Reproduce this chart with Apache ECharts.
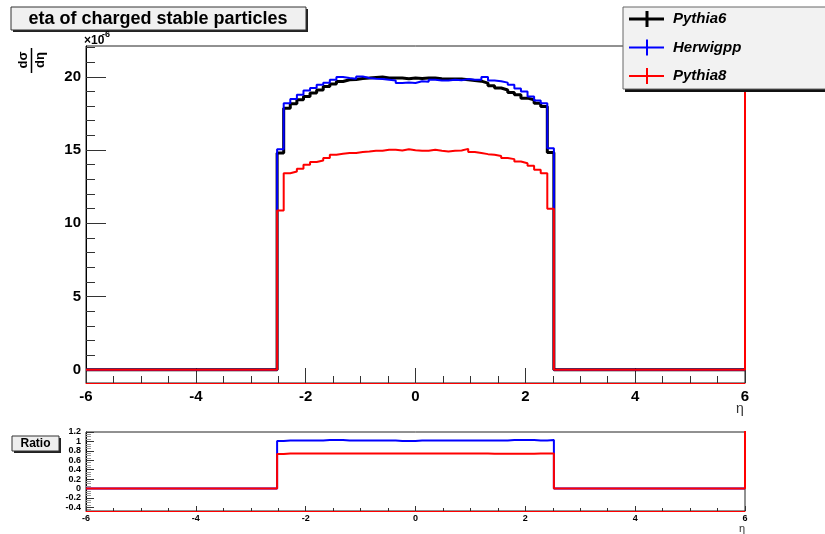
<!DOCTYPE html>
<html><head><meta charset="utf-8">
<script src="https://cdn.jsdelivr.net/npm/echarts@6/dist/echarts.min.js"></script>
<style>html,body{margin:0;padding:0;background:#fff}#c{width:825px;height:534px}</style>
</head><body><div id="c"></div>
<script>
// ---- histogram binning (eta) ----
const etaMin = -6, etaMax = 6, nBins = 100, firstFilledBin = 29;

// ---- dsigma/deta values (x1e-6), filled bins only ----
const pythia6 = [14.8, 17.86, 18.16, 18.43, 18.66, 18.89, 19.1, 19.34, 19.5, 19.68, 19.8, 19.82, 19.88,
  19.91, 19.95, 19.98, 19.91, 19.91, 19.91, 19.87, 19.91, 19.89, 19.91, 19.91, 19.87, 19.84, 19.84, 19.84, 19.8, 19.75, 19.7,
  19.57, 19.39, 19.23, 19.1, 18.93, 18.77, 18.54, 18.43, 18.2, 17.97, 14.83];
const herwigpp = [15.06, 18.2, 18.48, 18.77, 19.07, 19.23, 19.45, 19.6, 19.8, 19.98, 19.91, 19.87, 20.02,
  19.91, 19.87, 19.84, 19.8, 19.75, 19.57, 19.61, 19.57, 19.7, 19.66, 19.8, 19.75, 19.75, 19.8, 19.77, 19.84, 19.8, 19.8,
  19.98, 19.75, 19.7, 19.6, 19.45, 19.2, 19.0, 18.66, 18.38, 18.2, 15.13];
const pythia8 = [10.87, 13.42, 13.54, 13.72, 14.0, 14.18, 14.29, 14.45, 14.68, 14.74, 14.79, 14.79, 14.86, 14.9, 14.95, 14.95,
  15.02, 15.02, 14.97, 15.06, 14.99, 14.95, 14.95, 15.02, 14.95, 14.9, 14.95, 14.97, 15.08, 14.86, 14.79, 14.72, 14.68, 14.6,
  14.45, 14.38, 14.22, 14.1, 13.93, 13.65, 13.42, 10.99];
const pythia8Overflow = 1000;

// ---- ratio panel values (filled bins only) ----
const ratioHerwigpp = [1.01, 1.02, 1.02, 1.02, 1.02, 1.02, 1.02, 1.03, 1.03, 1.03, 1.02, 1.02, 1.02, 1.02, 1.02, 1.02,
  1.02, 1.02, 1.01, 1.01, 1.01, 1.02, 1.02, 1.02, 1.02, 1.02, 1.02, 1.02, 1.02, 1.02, 1.02, 1.02, 1.02, 1.02, 1.02, 1.03,
  1.03, 1.03, 1.03, 1.02, 1.02, 1.03];
const ratioPythia8 = [0.73, 0.745, 0.745, 0.745, 0.745, 0.745, 0.745, 0.745, 0.745, 0.745, 0.745, 0.745, 0.745, 0.745, 0.745, 0.745,
  0.745, 0.745, 0.745, 0.745, 0.745, 0.745, 0.745, 0.745, 0.745, 0.745, 0.745, 0.745, 0.745, 0.745, 0.745, 0.745, 0.735, 0.735, 0.735, 0.735,
  0.735, 0.735, 0.735, 0.745, 0.745, 0.745];
const ratioPythia8Overflow = 1000;

// ---- labels & ticks ----
const seriesNames = ['Pythia6', 'Herwigpp', 'Pythia8'];
const titleText = 'eta of charged stable particles';
const etaTicks = [-6, -4, -2, 0, 2, 4, 6];
const mainYTicks = [0, 5, 10, 15, 20];
const mainYMinorTicks = [1, 2, 3, 4, 6, 7, 8, 9, 11, 12, 13, 14, 16, 17, 18, 19, 21, 22];
const ratioYTicks = [-0.4, -0.2, 0, 0.2, 0.4, 0.6, 0.8, 1, 1.2];
const ratioYMinorTicks = [-0.45, -0.35, -0.3, -0.25, -0.15, -0.1, -0.05, 0.05, 0.1, 0.15, 0.25, 0.3, 0.35, 0.45, 0.5, 0.55,
  0.65, 0.7, 0.75, 0.85, 0.9, 0.95, 1.05, 1.1, 1.15];

const FONT = '"Liberation Sans", Arial, Helvetica, sans-serif';
const binW = (etaMax - etaMin) / nBins;
function histPath(vals, overflow) {
  const pts = [[etaMin, 0]];
  vals.forEach((v, i) => pts.push([+(etaMin + (firstFilledBin + i) * binW).toFixed(4), v]));
  pts.push([+(etaMin + (firstFilledBin + vals.length) * binW).toFixed(4), 0]);
  pts.push([etaMax, 0]);
  if (overflow !== undefined) pts.push([etaMax, overflow]);
  return pts;
}

const colors = ['#000000', '#0000ff', '#ff0000'];
const widths = [3, 2, 2];

function xAxisDef(grid, big) {
  return {
    type: 'value', gridIndex: grid, min: etaMin, max: etaMax, interval: 2,
    axisLine: { show: true, onZero: false, lineStyle: { color: '#ff0000', width: 1 } },
    axisTick: { show: true, inside: true, length: big ? 15 : 5, lineStyle: { color: '#333' } },
    minorTick: { show: true, splitNumber: 4, length: big ? 7 : 3, lineStyle: { color: '#333' } },
    axisLabel: { show: true, color: '#000', fontWeight: 'bold', fontFamily: FONT, fontSize: big ? 15 : 9, margin: big ? 6 : 3 },
    splitLine: { show: false }
  };
}
function yAxisMajor(grid, min, max, ticks, len, fs) {
  return {
    type: 'value', gridIndex: grid, position: 'left', offset: 0, min: min, max: max,
    axisLine: { show: true, onZero: false, lineStyle: { color: '#000', width: 1 } },
    axisTick: { show: true, inside: true, length: len, customValues: ticks, lineStyle: { color: '#333' } },
    axisLabel: { show: true, customValues: ticks, color: '#000', fontWeight: 'bold', fontFamily: FONT, fontSize: fs, margin: 5 },
    splitLine: { show: false }
  };
}
function yAxisMinor(grid, min, max, ticks, len, col) {
  return {
    type: 'value', gridIndex: grid, position: 'left', offset: 0, min: min, max: max,
    axisLine: { show: false, onZero: false },
    axisTick: { show: true, inside: true, length: len, customValues: ticks, lineStyle: { color: col } },
    axisLabel: { show: false },
    splitLine: { show: false }
  };
}

const mainData = [histPath(pythia6), histPath(herwigpp), histPath(pythia8, pythia8Overflow)];
const ratioData = [histPath(ratioHerwigpp), histPath(ratioPythia8, ratioPythia8Overflow)];

const series = [];
mainData.forEach((d, i) => series.push({
  name: seriesNames[i], type: 'line', step: 'end', data: d, xAxisIndex: 0, yAxisIndex: 0,
  symbol: 'none', clip: true, lineStyle: { color: colors[i], width: widths[i] }, z: 3 + i
}));
ratioData.forEach((d, i) => series.push({
  name: 'ratio ' + seriesNames[i + 1], type: 'line', step: 'end', data: d, xAxisIndex: 1, yAxisIndex: 2,
  symbol: 'none', clip: true, lineStyle: { color: colors[i + 1], width: 2 }, z: 3 + i
}));

// legend drawn with graphic (ROOT style: line + error cross)
const legendEls = [];
const legX = 623, legY = 7, legW = 215, legH = 82;
legendEls.push({ type: 'rect', shape: { x: legX + 2, y: legY + 3, width: legW, height: legH }, style: { fill: '#111' }, z: 100 });
legendEls.push({ type: 'rect', shape: { x: legX, y: legY, width: legW, height: legH }, style: { fill: '#f2f2f2', stroke: '#666', lineWidth: 1 }, z: 101 });
seriesNames.forEach((n, i) => {
  const cy = 19 + i * 28.5;
  legendEls.push({ type: 'line', shape: { x1: 629, y1: cy, x2: 664, y2: cy }, style: { stroke: colors[i], lineWidth: widths[i] }, z: 102 });
  legendEls.push({ type: 'line', shape: { x1: 647, y1: cy - 8, x2: 647, y2: cy + 8 }, style: { stroke: colors[i], lineWidth: widths[i] }, z: 102 });
  legendEls.push({ type: 'text', x: 673, y: cy, style: { text: n, fill: '#000', font: 'italic bold 15px ' + FONT, textAlign: 'left', textVerticalAlign: 'middle' }, z: 102 });
});

const graphic = [
  // title box
  { type: 'rect', shape: { x: 13, y: 9, width: 295, height: 23 }, style: { fill: '#222' }, z: 100 },
  { type: 'rect', shape: { x: 11, y: 7, width: 295, height: 23 }, style: { fill: '#f0f0f0', stroke: '#333', lineWidth: 1 }, z: 101 },
  { type: 'text', x: 158, y: 19, style: { text: titleText, fill: '#000', font: 'bold 18px ' + FONT, textAlign: 'center', textVerticalAlign: 'middle' }, z: 102 },
  // exponent
  { type: 'text', x: 84, y: 41, style: { text: '\u00d710', fill: '#000', font: 'bold 12px ' + FONT, textAlign: 'left', textVerticalAlign: 'middle' }, z: 102 },
  { type: 'text', x: 102, y: 35, style: { text: '-6', fill: '#000', font: 'bold 9px ' + FONT, textAlign: 'left', textVerticalAlign: 'middle' }, z: 102 },
  // y title dsigma/deta (rotated fraction)
  { type: 'text', x: 23, y: 60, rotation: Math.PI / 2, style: { x: 0, y: 0, text: 'd\u03c3', fill: '#000', font: 'bold 13px ' + FONT, textAlign: 'center', textVerticalAlign: 'middle' }, z: 102 },
  { type: 'line', shape: { x1: 31.5, y1: 48, x2: 31.5, y2: 73 }, style: { stroke: '#000', lineWidth: 1.5 }, z: 102 },
  { type: 'text', x: 40, y: 60, rotation: Math.PI / 2, style: { x: 0, y: 0, text: 'd\u03b7', fill: '#000', font: 'bold 13px ' + FONT, textAlign: 'center', textVerticalAlign: 'middle' }, z: 102 },
  // x titles
  { type: 'text', x: 740, y: 409, style: { text: '\u03b7', fill: '#333', font: '14px ' + FONT, textAlign: 'center', textVerticalAlign: 'middle' }, z: 102 },
  { type: 'text', x: 742, y: 529, style: { text: '\u03b7', fill: '#333', font: '11px ' + FONT, textAlign: 'center', textVerticalAlign: 'middle' }, z: 102 },
  // Ratio box
  { type: 'rect', shape: { x: 14, y: 438, width: 47, height: 15 }, style: { fill: '#222' }, z: 100 },
  { type: 'rect', shape: { x: 12, y: 436, width: 47, height: 15 }, style: { fill: '#eeeeee', stroke: '#333', lineWidth: 1 }, z: 101 },
  { type: 'text', x: 35.5, y: 443.5, style: { text: 'Ratio', fill: '#000', font: 'bold 12px ' + FONT, textAlign: 'center', textVerticalAlign: 'middle' }, z: 102 }
].concat(legendEls);

const chart = echarts.init(document.getElementById('c'), null, { renderer: 'canvas' });
chart.setOption({
  animation: false,
  backgroundColor: '#ffffff',
  grid: [
    { left: 86, top: 46, width: 659, height: 337, show: true, borderColor: '#222', borderWidth: 1, backgroundColor: 'transparent' },
    { left: 86, top: 432, width: 659, height: 79, show: true, borderColor: '#222', borderWidth: 1, backgroundColor: 'transparent' }
  ],
  xAxis: [xAxisDef(0, true), xAxisDef(1, false)],
  yAxis: [
    yAxisMajor(0, -0.9, 22.1, mainYTicks, 20, 15),
    yAxisMinor(0, -0.9, 22.1, mainYMinorTicks, 9, '#333'),
    yAxisMajor(1, -0.48, 1.2, ratioYTicks, 8, 9),
    yAxisMinor(1, -0.48, 1.2, ratioYMinorTicks, 5, '#999')
  ],
  series: series,
  graphic: graphic
});
</script></body></html>
